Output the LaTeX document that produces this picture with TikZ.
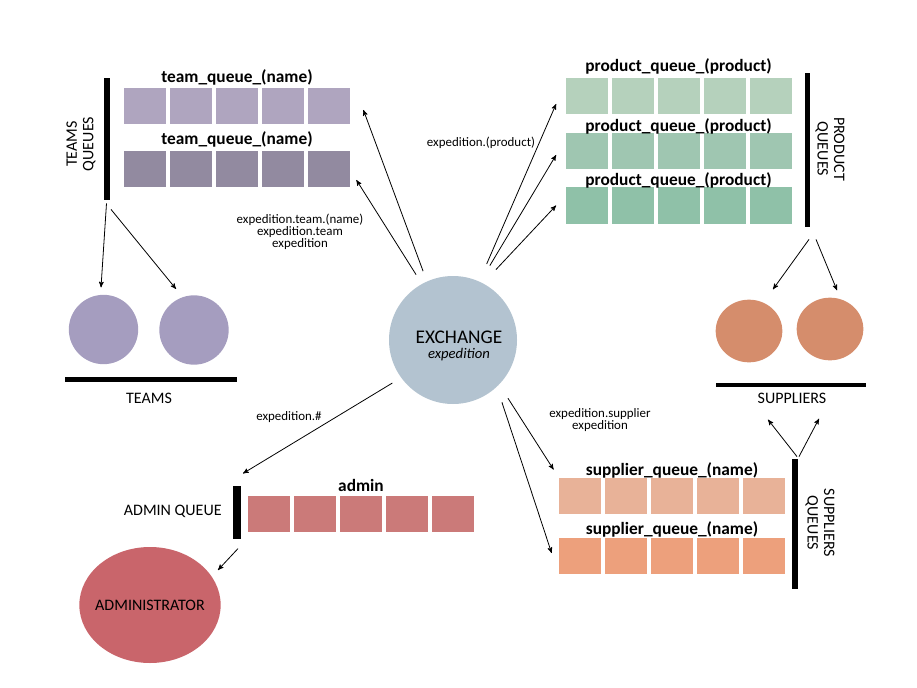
\documentclass[tikz,border=0pt]{standalone}
\usepackage{fontspec}
\setmainfont{Carlito}
\usepackage{xcolor}
\usetikzlibrary{arrows,positioning,calc,shapes.geometric}

\definecolor{teamlight}{HTML}{AFA5BF}
\definecolor{teamdark}{HTML}{928AA0}
\definecolor{teamc}{HTML}{A59DBF}
\definecolor{exch}{HTML}{B3C3D0}
\definecolor{prodA}{HTML}{B5D1BC}
\definecolor{prodB}{HTML}{9FC6B1}
\definecolor{prodC}{HTML}{8FC1A8}
\definecolor{supc}{HTML}{D58D6C}
\definecolor{supA}{HTML}{E8B298}
\definecolor{supB}{HTML}{EDA07C}
\definecolor{admq}{HTML}{CB7A79}
\definecolor{admc}{HTML}{C9656B}

\begin{document}
\begin{tikzpicture}[->, >=stealth', x=0.75pt, y=-0.75pt, line width=0.6pt]
	\tikzstyle{cell}=[draw=none,inner sep=0,minimum width=31.5pt,minimum height=27pt]
	\tikzstyle{qbar}=[draw=none,fill=black,inner sep=0]
	\tikzstyle{qname}=[font=\fontsize{13}{14}\selectfont\bfseries,inner sep=0,anchor=base]
	\tikzstyle{caps}=[font=\fontsize{12}{12.5}\selectfont,align=center,inner sep=0]
	\tikzstyle{rkey}=[font=\fontsize{9.7}{9}\selectfont,align=center,inner sep=0]
	\tikzstyle{blob}=[circle,draw=none,inner sep=0]
	\useasboundingbox (0,0) rectangle (917,688);

	% exchange
	\node[blob,fill=exch,minimum size=96pt] (ex) at (453,340) {};
	\node[align=center,inner sep=0] (exl) at (459,346) {\fontsize{14.5}{16}\selectfont EXCHANGE\\[-1pt]\fontsize{11}{12}\selectfont\itshape expedition};

	% teams
	\foreach \r/\y/\c in {a/106/teamlight,b/169/teamdark}
		\foreach \i in {1,...,5}
			\node[cell,fill=\c] (tq\r\i) at ({145+46*(\i-1)},\y) {};
	\node[qname] (tqla) at ([yshift=3.75pt]tqa3.north) {team\_queue\_(name)};
	\node[qname] (tqlb) at ([yshift=4.5pt]tqb3.north) {team\_queue\_(name)};
	\node[qbar,minimum width=4.5pt,minimum height=91.5pt] (tbar) at (106.5,139) {};
	\node[caps,rotate=90] (tql) at (81,144) {TEAMS\\QUEUES};
	\node[blob,fill=teamc,minimum size=52pt] (tc1) at (103.5,329.5) {};
	\node[blob,fill=teamc,minimum size=52pt] (tc2) at (194,330) {};
	\node[qbar,minimum width=129pt,minimum height=3.75pt] (tbase) at (151,379.5) {};
	\node[caps] (tbl) at (149,398) {TEAMS};

	% products
	\foreach \r/\y/\c in {a/96/prodA,b/151/prodB,c/205.5/prodC}
		\foreach \i in {1,...,5}
			\node[cell,fill=\c] (pq\r\i) at ({586.5+46*(\i-1)},\y) {};
	\node[qname] (pqla) at ([yshift=4.5pt]pqa3.north) {product\_queue\_(product)};
	\node[qname] (pqlb) at ([yshift=0.75pt]pqb3.north) {product\_queue\_(product)};
	\node[qname] (pqlc) at ([yshift=1.5pt]pqc3.north) {product\_queue\_(product)};
	\node[qbar,minimum width=4pt,minimum height=115.5pt] (pbar) at (807.5,150) {};
	\node[caps,rotate=-90] (pql) at (830,149) {PRODUCT\\QUEUES};

	% suppliers
	\node[ellipse,fill=supc,minimum width=50pt,minimum height=47pt,inner sep=0] (sc1) at (749,331) {};
	\node[ellipse,fill=supc,minimum width=50pt,minimum height=47pt,inner sep=0] (sc2) at (830,329) {};
	\node[qbar,minimum width=112.5pt,minimum height=3.5pt] (sbase) at (791,385) {};
	\node[caps] (sbl) at (792,398) {SUPPLIERS};
	\foreach \r/\y/\c in {a/496/supA,b/556/supB}
		\foreach \i in {1,...,5}
			\node[cell,fill=\c] (sq\r\i) at ({580+46*(\i-1)},\y) {};
	\node[qname] (sqla) at ([yshift=1.5pt]sqa3.north) {supplier\_queue\_(name)};
	\node[qname] (sqlb) at ([yshift=2.25pt]sqb3.north) {supplier\_queue\_(name)};
	\node[qbar,minimum width=4.5pt,minimum height=97.5pt] (sbar) at (795,524) {};
	\node[caps,rotate=-90] (sql) at (820,523) {SUPPLIERS\\QUEUES};

	% admin
	\foreach \i in {1,...,5}
		\node[cell,fill=admq] (aq\i) at ({269+46*(\i-1)},514) {};
	\node[qname] (aql) at ([yshift=3pt]aq3.north) {admin};
	\node[qbar,minimum width=5.5pt,minimum height=40pt] (abar) at (237,512.5) {};
	\node[caps,anchor=east] (aqt) at (222,511) {ADMIN QUEUE};
	\node[ellipse,fill=admc,minimum width=106pt,minimum height=87pt,inner sep=0,
		label={[caps]center:ADMINISTRATOR}] (adm) at (150,605) {};

	% routing keys
	\node[rkey] (kteam) at (300,232) {expedition.team.(name)\\expedition.team\\expedition};
	\node[rkey] (kprod) at (481,143) {expedition.(product)};
	\node[rkey] (kadm) at (289,417) {expedition.\#};
	\node[rkey] (ksup) at (600,420) {expedition.supplier\\expedition};

	% bindings
	\draw[shorten <=8pt] (ex.114) -- ([shift={(13,4)}]tqa5.east);
	\draw[shorten <=8pt] (ex.119) -- ([shift={(6,11)}]tqb5.east);
	\draw[shorten <=14pt] (ex.66) -- ([shift={(-9,8)}]pqa1.west);
	\draw[shorten <=14pt] (ex.65) -- ([shift={(-9,4)}]pqb1.west);
	\draw[shorten <=14pt] (ex.62) -- ([shift={(-9,0)}]pqc1.west);
	\draw[shorten <=7.5pt] (ex.216) -- ([shift={(6,-12)}]abar.north);
	\draw[shorten <=12pt] (ex.-44) -- ([shift={(-5,-8)}]sqa1.north west);
	\draw[shorten <=12pt] (ex.-47) -- ([shift={(-7,-3)}]sqb1.west);

	% consumers
	\draw ([shift={(0,3)}]tbar.south) -- ([shift={(-2.5,-7)}]tc1.north);
	\draw ([shift={(4.5,9)}]tbar.south) -- ([shift={(-18,-6)}]tc2.north);
	\draw ([shift={(1.5,12)}]pbar.south) -- ([shift={(24,-10)}]sc1.north);
	\draw ([shift={(8.5,12)}]pbar.south) -- ([shift={(7,-7)}]sc2.north);
	\draw ([shift={(2,-2)}]sbar.north) -- ([shift={(-24,16)}]sbl.south);
	\draw ([shift={(4,-2)}]sbar.north) -- ([shift={(27,15)}]sbl.south);
	\draw ([shift={(1,9)}]abar.south) -- ([shift={(68,-35)}]adm.center);
\end{tikzpicture}
\end{document}
